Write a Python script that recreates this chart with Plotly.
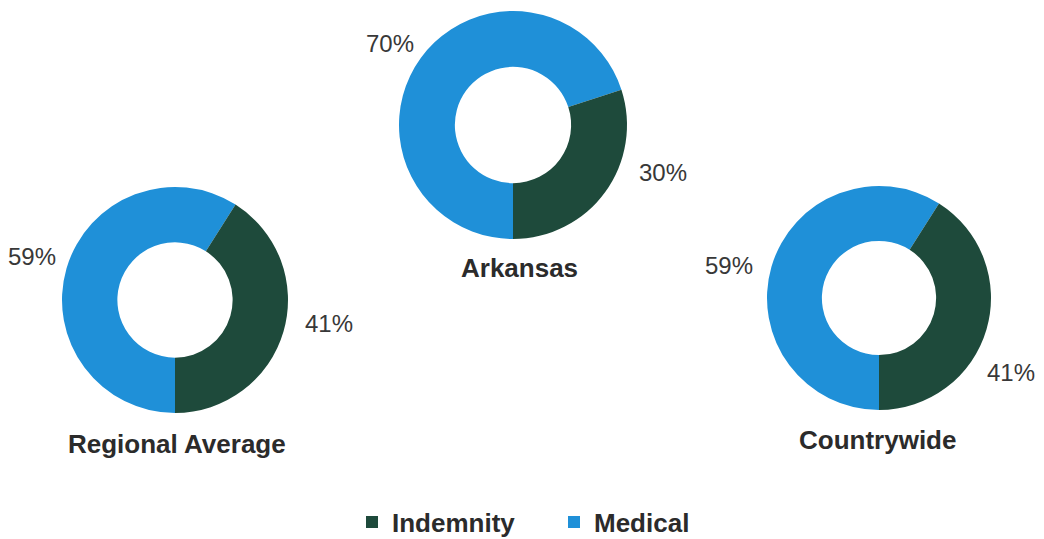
import plotly.graph_objects as go

# slice order: Medical first so Indemnity lands on the right, going up from 6 o'clock
labels = ["Medical", "Indemnity"]
colors = ["#1f90d8", "#1e4a3b"]

chart_titles = ["Regional Average", "Arkansas", "Countrywide"]
regional = [59, 41]
arkansas = [70, 30]
countrywide = [59, 41]

W, H = 1044, 539
OFF = 8  # page body margin


def px(x):
    return (x - OFF) / W


def py(y):
    return 1 - (y - OFF) / H


def donut(values, cx, cy, r, show):
    return go.Pie(
        labels=labels, values=values, hole=0.51, sort=False,
        direction="counterclockwise", rotation=180,
        marker=dict(colors=colors, line=dict(width=0)),
        textinfo="none",
        domain=dict(x=[px(cx - r), px(cx + r)], y=[py(cy + r), py(cy - r)]),
        showlegend=show, hoverinfo="label+percent",
    )


fig = go.Figure()
fig.add_trace(donut(regional, 175, 300, 113, True))
fig.add_trace(donut(arkansas, 513, 125, 114, False))
fig.add_trace(donut(countrywide, 879, 298, 112, False))

# chart names under each ring
for name, (x, y) in zip(chart_titles, [(177, 444), (519, 268), (877, 440)]):
    fig.add_annotation(text=name, x=px(x), y=py(y), xref="paper", yref="paper",
                       showarrow=False, xanchor="center", yanchor="middle",
                       font=dict(size=26, color="#2b2b2b", family="Liberation Sans", weight="bold"))

# percentage labels outside the rings (medical, indemnity)
label_pos = [
    [(32, 257), (329, 323)],
    [(390, 43), (663, 172)],
    [(729, 265), (1011, 372)],
]
for vals, pos in zip([regional, arkansas, countrywide], label_pos):
    for v, (x, y) in zip(vals, pos):
        fig.add_annotation(text=f"{v}%", x=px(x), y=py(y), xref="paper", yref="paper",
                           showarrow=False, xanchor="center", yanchor="middle",
                           font=dict(size=24, color="#383838", family="Liberation Sans"))

fig.update_layout(
    width=W, height=H,
    margin=dict(l=0, r=0, t=0, b=0),
    paper_bgcolor="white",
    legend=dict(orientation="h", x=px(352), xanchor="left", y=py(522), yanchor="middle",
                traceorder="reversed", entrywidth=157, entrywidthmode="pixels",
                font=dict(size=26, color="#2b2b2b", family="Liberation Sans", weight="bold"),
                itemwidth=30),
)

fig.write_html("out.html")
